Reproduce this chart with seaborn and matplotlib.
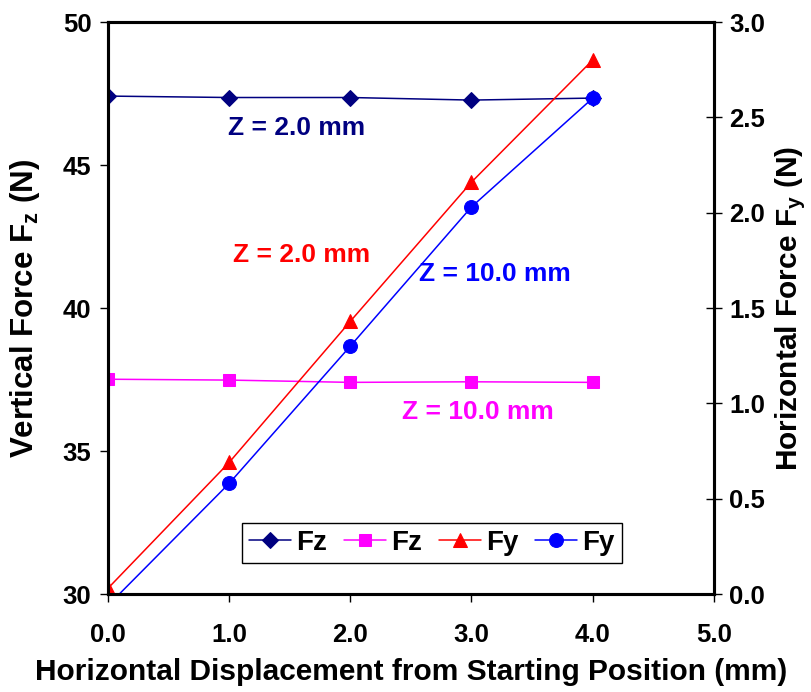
import numpy as np
import pandas as pd
import matplotlib
matplotlib.use("Agg")
import matplotlib.pyplot as plt
import seaborn as sns

# --- data ---
displacement = [0.0, 1.0, 2.0, 3.0, 4.0]
fz_z2 = [47.41, 47.36, 47.36, 47.27, 47.34]     # Fz, Z = 2.0 mm (left axis)
fz_z10 = [37.51, 37.48, 37.40, 37.42, 37.40]    # Fz, Z = 10.0 mm (left axis)
fy_z2 = [0.03, 0.69, 1.43, 2.16, 2.80]          # Fy, Z = 2.0 mm (right axis)
fy_z10 = [-0.06, 0.58, 1.30, 2.03, 2.60]        # Fy, Z = 10.0 mm (right axis)

x_ticks = [0.0, 1.0, 2.0, 3.0, 4.0, 5.0]
left_ticks = [30, 35, 40, 45, 50]
right_ticks = [0.0, 0.5, 1.0, 1.5, 2.0, 2.5, 3.0]

NAVY, MAGENTA, RED, BLUE = "#000080", "#FF00FF", "#FF0000", "#0000FF"

sns.set_style("white")
plt.rcParams["font.family"] = ["Liberation Sans", "DejaVu Sans"]
plt.rcParams["font.weight"] = "bold"
plt.rcParams["text.color"] = "black"
plt.rcParams["axes.labelcolor"] = "black"
plt.rcParams["xtick.color"] = "black"
plt.rcParams["ytick.color"] = "black"
plt.rcParams["mathtext.fontset"] = "custom"
plt.rcParams["mathtext.rm"] = "Liberation Sans:bold"
plt.rcParams["mathtext.it"] = "Liberation Sans:bold"
plt.rcParams["mathtext.bf"] = "Liberation Sans:bold"

df = pd.DataFrame({"x": displacement, "fz2": fz_z2, "fz10": fz_z10,
                   "fy2": fy_z2, "fy10": fy_z10})

fig = plt.figure(figsize=(8.12, 6.92), dpi=100)
ax = fig.add_axes([0.133, 0.1416, 0.746, 0.8266])
ax2 = ax.twinx()

sns.lineplot(data=df, x="x", y="fz2", ax=ax, color=NAVY, marker="D", markersize=8,
             markeredgecolor=NAVY, linewidth=1.1, label="Fz")
sns.lineplot(data=df, x="x", y="fz10", ax=ax, color=MAGENTA, marker="s", markersize=9,
             markeredgecolor=MAGENTA, linewidth=1.1, label="Fz")
sns.lineplot(data=df, x="x", y="fy2", ax=ax2, color=RED, marker="^", markersize=10,
             markeredgecolor=RED, linewidth=1.1, label="Fy")
sns.lineplot(data=df, x="x", y="fy10", ax=ax2, color=BLUE, marker="o", markersize=10,
             markeredgecolor=BLUE, linewidth=1.1, label="Fy")

ax.set_xlim(0, 5)
ax.set_ylim(30, 50)
ax2.set_ylim(0, 3.0)
ax.set_xticks(x_ticks)
ax.set_xticklabels([f"{t:.1f}" for t in x_ticks])
ax.set_yticks(left_ticks)
ax2.set_yticks(right_ticks)
ax2.set_yticklabels([f"{t:.1f}" for t in right_ticks])

ax.tick_params(axis="x", direction="out", length=6, width=1, pad=15, labelsize=18.5, bottom=True)
ax.tick_params(axis="y", direction="out", length=6, width=1, pad=6, labelsize=18.5, left=True)
ax2.tick_params(axis="y", direction="inout", length=12, width=1, pad=5, labelsize=18.5, right=True)

for a in (ax, ax2):
    for s in a.spines.values():
        s.set_linewidth(2.2)
        s.set_color("black")

ax.set_xlabel("Horizontal Displacement from Starting Position (mm)", fontsize=21.5,
              fontweight="bold", labelpad=8)
ax.set_ylabel(r"Vertical Force F$_{\mathrm{z}}$ (N)", fontsize=22.5, fontweight="bold", labelpad=15)
ax2.set_ylabel(r"Horizontal Force F$_{\mathrm{y}}$ (N)", fontsize=21.5, fontweight="bold", labelpad=6)

# series annotations
ax.text(1.56, 46.29, "Z = 2.0 mm", color=NAVY, fontsize=19, fontweight="bold", ha="center", va="center")
ax.text(1.60, 41.85, "Z = 2.0 mm", color=RED, fontsize=19, fontweight="bold", ha="center", va="center")
ax.text(3.19, 41.19, "Z = 10.0 mm", color=BLUE, fontsize=19, fontweight="bold", ha="center", va="center")
ax.text(3.05, 36.36, "Z = 10.0 mm", color=MAGENTA, fontsize=19, fontweight="bold", ha="center", va="center")

h1, l1 = ax.get_legend_handles_labels()
h2, l2 = ax2.get_legend_handles_labels()
ax.get_legend().remove()
ax2.get_legend().remove()
leg = ax2.legend(h1 + h2, l1 + l2, ncol=4, loc="center", bbox_to_anchor=(0.535, 0.089),
                 fancybox=False, framealpha=1, edgecolor="black", fontsize=20,
                 handlelength=1.5, handletextpad=0.2, columnspacing=0.6, borderpad=0.25)
leg.get_frame().set_linewidth(1.0)
for t in leg.get_texts():
    t.set_fontweight("bold")

fig.savefig("out.png", dpi=100)
